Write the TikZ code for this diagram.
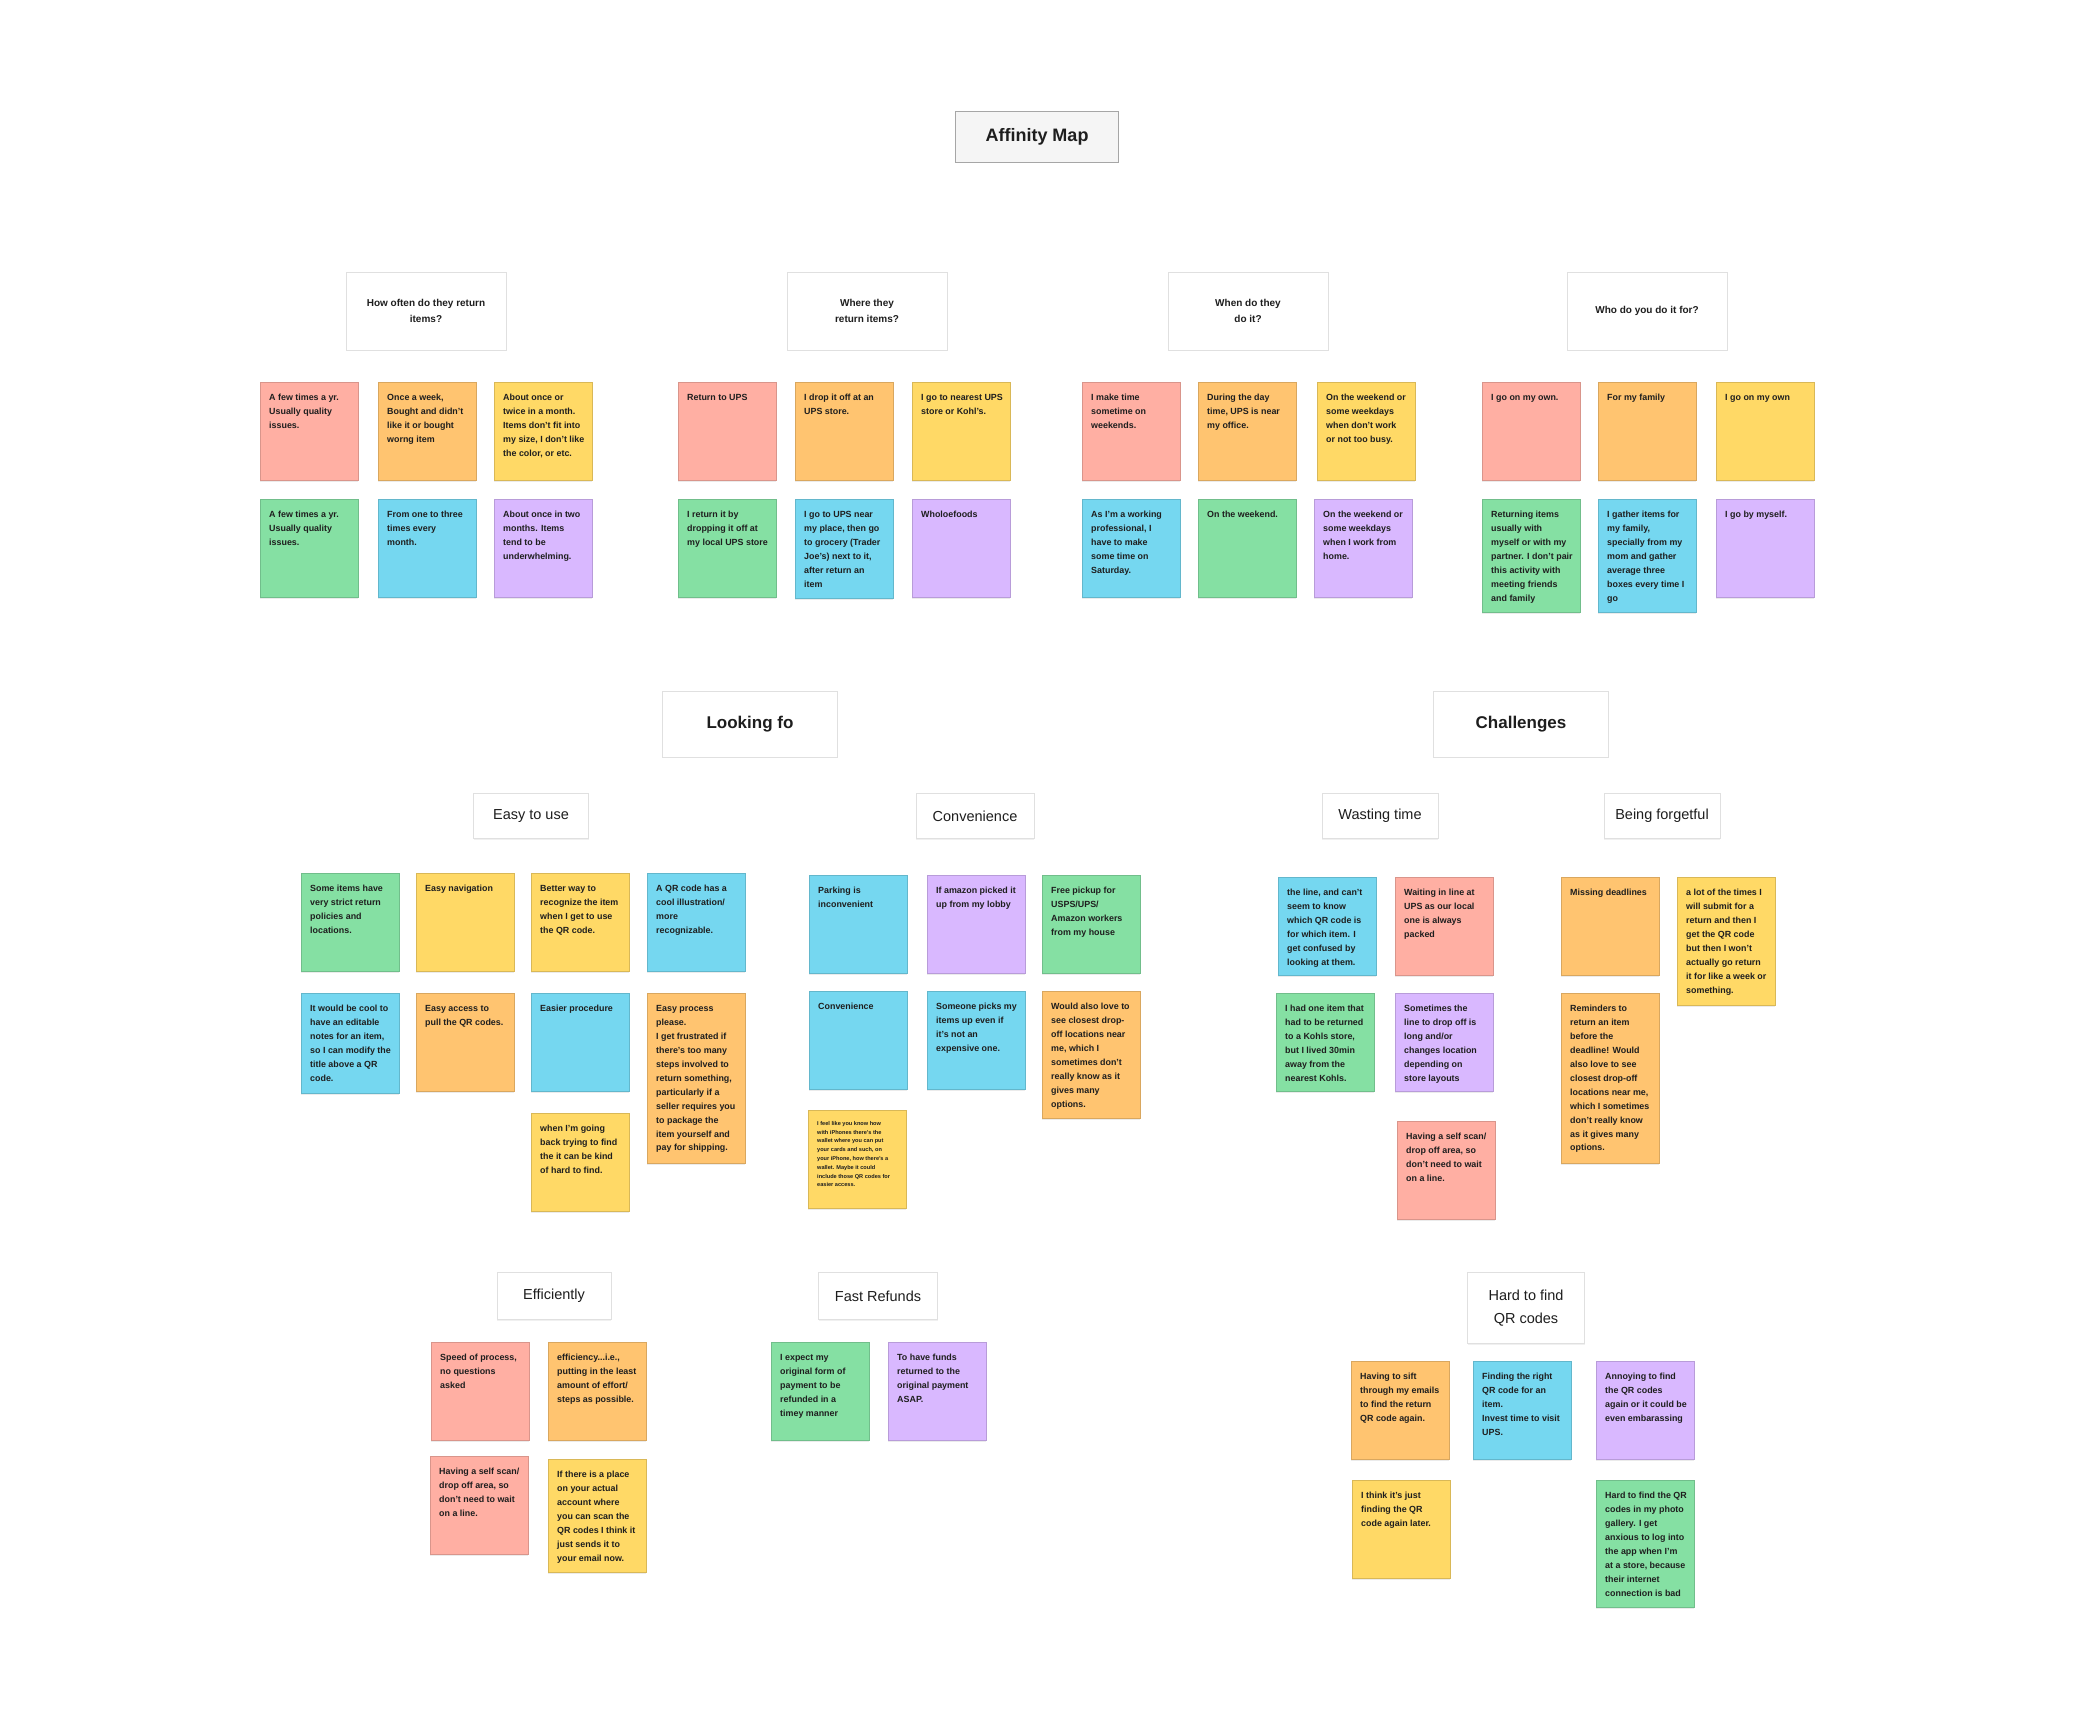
\documentclass[tikz,border=0pt]{standalone}
\usepackage{fontspec}
\setmainfont{Liberation Sans}
\usetikzlibrary{shadows}

\definecolor{nred}{HTML}{FFAFA3}
\definecolor{norange}{HTML}{FFC470}
\definecolor{nyellow}{HTML}{FFD966}
\definecolor{ngreen}{HTML}{85E0A3}
\definecolor{nblue}{HTML}{75D7F0}
\definecolor{npurple}{HTML}{D9B8FF}
\definecolor{ink}{HTML}{1E1E1E}

% sticky text, top aligned, height of the note as option
\newcommand{\stk}[2][98]{\vbox to \dimexpr#1pt-18pt\relax{\hbox to 80pt{\begin{tabular}[t]{@{}l@{}}#2\end{tabular}\hss}\vfil}}

\begin{document}
\begin{tikzpicture}[x=1pt, y=-1pt,
  note/.style={fill=#1, draw=#1!85!black, line width=0.4pt, anchor=north west,
    inner xsep=9pt, inner ysep=9pt, text=ink,
    font=\fontsize{8.9}{13.9}\selectfont\bfseries,
    drop shadow={shadow xshift=0pt, shadow yshift=-1.5pt, fill=black, opacity=0.08}},
  qbox/.style={draw=black!12, fill=white, line width=0.5pt, text=ink, align=center,
    font=\fontsize{10}{16}\selectfont\bfseries, minimum width=160, minimum height=78,
    drop shadow={shadow xshift=0pt, shadow yshift=-1pt, fill=black, opacity=0.06}},
  cbox/.style={qbox, font=\fontsize{17}{20}\selectfont\bfseries, minimum width=175, minimum height=66},
  sbox/.style={qbox, font=\fontsize{14.5}{23}\selectfont, minimum height=45},
  tbox/.style={draw=black!35, fill=black!4, line width=0.6pt, text=ink,
    font=\fontsize{18}{22}\selectfont\bfseries, minimum width=163, minimum height=51}]

\useasboundingbox[fill=white] (0,0) rectangle (2100,1734);

\node[tbox] (title) at (1037,137) {Affinity Map};

% questions
\node[qbox] (qhow) at (426,311) {How often do they return\\items?};
\node[qbox] (qwhere) at (867,311) {Where they\\return items?};
\node[qbox] (qwhen) at (1248,311) {When do they\\do it?};
\node[qbox] (qwho) at (1647,311) {Who do you do it for?};

\node[note=nred] (hw1) at (260,382) {\stk{A few times a yr.\\Usually quality\\issues.}};
\node[note=norange] (hw2) at (378,382) {\stk{Once a week,\\Bought and didn't\\like it or bought\\worng item}};
\node[note=nyellow] (hw3) at (494,382) {\stk{About once or\\twice in a month.\\Items don't fit into\\my size, I don't like\\the color, or etc.}};
\node[note=ngreen] (hw4) at (260,499) {\stk{A few times a yr.\\Usually quality\\issues.}};
\node[note=nblue] (hw5) at (378,499) {\stk{From one to three\\times every\\month.}};
\node[note=npurple] (hw6) at (494,499) {\stk{About once in two\\months. Items\\tend to be\\underwhelming.}};

\node[note=nred] (wh1) at (678,382) {\stk{Return to UPS}};
\node[note=norange] (wh2) at (795,382) {\stk{I drop it off at an\\UPS store.}};
\node[note=nyellow] (wh3) at (912,382) {\stk{I go to nearest UPS\\store or Kohl's.}};
\node[note=ngreen] (wh4) at (678,499) {\stk{I return it by\\dropping it off at\\my local UPS store}};
\node[note=nblue] (wh5) at (795,499) {\stk[99]{I go to UPS near\\my place, then go\\to grocery (Trader\\Joe's) next to it,\\after return an\\item}};
\node[note=npurple] (wh6) at (912,499) {\stk{Wholoefoods}};

\node[note=nred] (wn1) at (1082,382) {\stk{I make time\\sometime on\\weekends.}};
\node[note=norange] (wn2) at (1198,382) {\stk{During the day\\time, UPS is near\\my office.}};
\node[note=nyellow] (wn3) at (1317,382) {\stk{On the weekend or\\some weekdays\\when don't work\\or not too busy.}};
\node[note=nblue] (wn4) at (1082,499) {\stk{As I'm a working\\professional, I\\have to make\\some time on\\Saturday.}};
\node[note=ngreen] (wn5) at (1198,499) {\stk{On the weekend.}};
\node[note=npurple] (wn6) at (1314,499) {\stk{On the weekend or\\some weekdays\\when I work from\\home.}};

\node[note=nred] (wo1) at (1482,382) {\stk{I go on my own.}};
\node[note=norange] (wo2) at (1598,382) {\stk{For my family}};
\node[note=nyellow] (wo3) at (1716,382) {\stk{I go on my own}};
\node[note=ngreen] (wo4) at (1482,499) {\stk[113]{Returning items\\usually with\\myself or with my\\partner. I don't pair\\this activity with\\meeting friends\\and family}};
\node[note=nblue] (wo5) at (1598,499) {\stk[113]{I gather items for\\my family,\\specially from my\\mom and gather\\average three\\boxes every time I\\go}};
\node[note=npurple] (wo6) at (1716,499) {\stk{I go by myself.}};

% looking for
\node[cbox] (look) at (750,724) {Looking fo};
\node[sbox, minimum width=115] (easy) at (531,816) {Easy to use};
\node[sbox, minimum width=118] (conv) at (975,816) {Convenience};
\node[sbox, minimum width=114, minimum height=47] (effi) at (554,1296) {Efficiently};
\node[sbox, minimum width=119, minimum height=47] (fast) at (878,1296) {Fast Refunds};

\node[note=ngreen] (ez1) at (301,873) {\stk{Some items have\\very strict return\\policies and\\locations.}};
\node[note=nyellow] (ez2) at (416,873) {\stk{Easy navigation}};
\node[note=nyellow] (ez3) at (531,873) {\stk{Better way to\\recognize the item\\when I get to use\\the QR code.}};
\node[note=nblue] (ez4) at (647,873) {\stk{A QR code has a\\cool illustration/\\more\\recognizable.}};
\node[note=nblue] (ez5) at (301,993) {\stk[100]{It would be cool to\\have an editable\\notes for an item,\\so I can modify the\\title above a QR\\code.}};
\node[note=norange] (ez6) at (416,993) {\stk{Easy access to\\pull the QR codes.}};
\node[note=nblue] (ez7) at (531,993) {\stk{Easier procedure}};
\node[note=norange] (ez8) at (647,993) {\stk[170]{Easy process\\please.\\I get frustrated if\\there's too many\\steps involved to\\return something,\\particularly if a\\seller requires you\\to package the\\item yourself and\\pay for shipping.}};
\node[note=nyellow] (ez9) at (531,1113) {\stk{when I'm going\\back trying to find\\the it can be kind\\of hard to find.}};

\node[note=nblue] (cv1) at (809,875) {\stk{Parking is\\inconvenient}};
\node[note=npurple] (cv2) at (927,875) {\stk{If amazon picked it\\up from my lobby}};
\node[note=ngreen] (cv3) at (1042,875) {\stk{Free pickup for\\USPS/UPS/\\Amazon workers\\from my house}};
\node[note=nblue] (cv4) at (809,991) {\stk{Convenience}};
\node[note=nblue] (cv5) at (927,991) {\stk{Someone picks my\\items up even if\\it's not an\\expensive one.}};
\node[note=norange] (cv6) at (1042,991) {\stk[127]{Would also love to\\see closest drop-\\off locations near\\me, which I\\sometimes don't\\really know as it\\gives many\\options.}};
\node[note=nyellow, font=\fontsize{5.6}{8.8}\selectfont\bfseries] (cv7) at (808,1110) {\stk{I feel like you know how\\with iPhones there's the\\wallet where you can put\\your cards and such, on\\your iPhone, how there's a\\wallet. Maybe it could\\include those QR codes for\\easier access.}};

\node[note=nred] (ef1) at (431,1342) {\stk{Speed of process,\\no questions\\asked}};
\node[note=norange] (ef2) at (548,1342) {\stk{efficiency...i.e.,\\putting in the least\\amount of effort/\\steps as possible.}};
\node[note=nred] (ef3) at (430,1456) {\stk{Having a self scan/\\drop off area, so\\don't need to wait\\on a line.}};
\node[note=nyellow] (ef4) at (548,1459) {\stk[113]{If there is a place\\on your actual\\account where\\you can scan the\\QR codes I think it\\just sends it to\\your email now.}};

\node[note=ngreen] (fr1) at (771,1342) {\stk{I expect my\\original form of\\payment to be\\refunded in a\\timey manner}};
\node[note=npurple] (fr2) at (888,1342) {\stk{To have funds\\returned to the\\original payment\\ASAP.}};

% challenges
\node[cbox] (chal) at (1521,724) {Challenges};
\node[sbox, minimum width=116] (wast) at (1380,816) {Wasting time};
\node[sbox, minimum width=116] (forg) at (1662,816) {Being forgetful};
\node[sbox, minimum width=117, minimum height=71] (hard) at (1526,1308) {Hard to find\\QR codes};

\node[note=nblue] (wt1) at (1278,877) {\stk{the line, and can't\\seem to know\\which QR code is\\for which item. I\\get confused by\\looking at them.}};
\node[note=nred] (wt2) at (1395,877) {\stk{Waiting in line at\\UPS as our local\\one is always\\packed}};
\node[note=ngreen] (wt3) at (1276,993) {\stk{I had one item that\\had to be returned\\to a Kohls store,\\but I lived 30min\\away from the\\nearest Kohls.}};
\node[note=npurple] (wt4) at (1395,993) {\stk{Sometimes the\\line to drop off is\\long and/or\\changes location\\depending on\\store layouts}};
\node[note=nred] (wt5) at (1397,1121) {\stk{Having a self scan/\\drop off area, so\\don't need to wait\\on a line.}};

\node[note=norange] (bf1) at (1561,877) {\stk{Missing deadlines}};
\node[note=nyellow] (bf2) at (1677,877) {\stk[128]{a lot of the times I\\will submit for a\\return and then I\\get the QR code\\but then I won't\\actually go return\\it for like a week or\\something.}};
\node[note=norange] (bf3) at (1561,993) {\stk[170]{Reminders to\\return an item\\before the\\deadline! Would\\also love to see\\closest drop-off\\locations near me,\\which I sometimes\\don't really know\\as it gives many\\options.}};

\node[note=norange] (hf1) at (1351,1361) {\stk{Having to sift\\through my emails\\to find the return\\QR code again.}};
\node[note=nblue] (hf2) at (1473,1361) {\stk{Finding the right\\QR code for an\\item.\\Invest time to visit\\UPS.}};
\node[note=npurple] (hf3) at (1596,1361) {\stk{Annoying to find\\the QR codes\\again or it could be\\even embarassing}};
\node[note=nyellow] (hf4) at (1352,1480) {\stk{I think it's just\\finding the QR\\code again later.}};
\node[note=ngreen] (hf5) at (1596,1480) {\stk[127]{Hard to find the QR\\codes in my photo\\gallery. I get\\anxious to log into\\the app when I'm\\at a store, because\\their internet\\connection is bad}};

\end{tikzpicture}
\end{document}
